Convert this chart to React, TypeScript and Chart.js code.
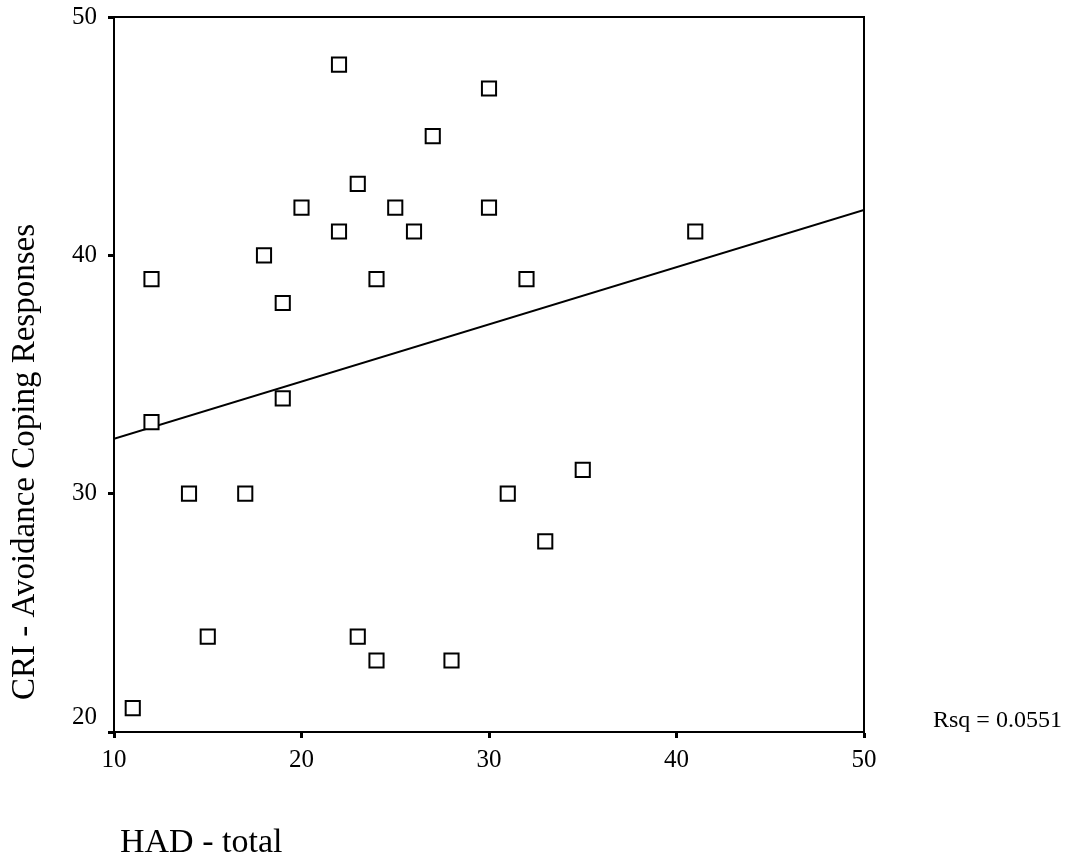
import React, { useEffect, useRef } from "react";
import { Chart, registerables } from "chart.js";

Chart.register(...registerables);

// HAD - total (x) and CRI - Avoidance Coping Responses (y)
const hadTotal = [11, 12, 12, 14, 15, 17, 18, 19, 19, 20, 22, 22, 23, 23, 24, 24, 25, 26, 27, 28, 30, 30, 31, 32, 33, 35, 41];
const criAvoidance = [21, 39, 33, 30, 24, 30, 40, 38, 34, 42, 48, 41, 43, 24, 39, 23, 42, 41, 45, 23, 47, 42, 30, 39, 28, 31, 41];

// fitted regression line endpoints
const fitX = [10, 50];
const fitY = [32.3, 41.9];

const xTicks = [10, 20, 30, 40, 50];
const yTicks = [20, 30, 40, 50];

const xTitle = "HAD - total";
const yTitle = "CRI - Avoidance Coping Responses";
const rsqLabel = "Rsq = 0.0551";

const FONT = "'Liberation Serif', 'Times New Roman', serif";

export default function App() {
  const ref = useRef<HTMLCanvasElement | null>(null);

  useEffect(() => {
    if (!ref.current) return;
    const textPlugin = {
      id: "frameAndTexts",
      afterDraw(chart: any) {
        const { ctx, chartArea } = chart;
        ctx.save();
        ctx.strokeStyle = "#000";
        ctx.lineWidth = 2;
        ctx.beginPath();
        ctx.moveTo(chartArea.left, chartArea.top);
        ctx.lineTo(chartArea.right, chartArea.top);
        ctx.lineTo(chartArea.right, chartArea.bottom);
        ctx.stroke();

        ctx.fillStyle = "#000";
        // y title
        ctx.save();
        ctx.translate(34, 462);
        ctx.rotate(-Math.PI / 2);
        ctx.font = `33px ${FONT}`;
        ctx.textAlign = "center";
        ctx.textBaseline = "alphabetic";
        ctx.fillText(yTitle, 0, 0);
        ctx.restore();
        // x title
        ctx.font = `34px ${FONT}`;
        ctx.textAlign = "left";
        ctx.textBaseline = "alphabetic";
        ctx.fillText(xTitle, 120, 852);
        // Rsq
        ctx.font = `24px ${FONT}`;
        ctx.fillText(rsqLabel, 933, 727);
        ctx.restore();
      },
    };

    const chart = new Chart(ref.current, {
      type: "scatter",
      data: {
        datasets: [
          {
            label: "points",
            data: hadTotal.map((x, i) => ({ x, y: criAvoidance[i] })),
            pointStyle: "rect",
            pointRadius: 10,
            pointBorderWidth: 2,
            pointBorderColor: "#000",
            pointBackgroundColor: "#fff",
            showLine: false,
          },
          {
            label: "fit",
            data: fitX.map((x, i) => ({ x, y: fitY[i] })),
            showLine: true,
            borderColor: "#000",
            borderWidth: 2,
            pointRadius: 0,
            fill: false,
          },
        ],
      },
      options: {
        responsive: false,
        devicePixelRatio: 1,
        animation: false,
        layout: { padding: { top: 17, right: 225, left: 0, bottom: 0 } },
        plugins: { legend: { display: false }, tooltip: { enabled: false } },
        scales: {
          x: {
            type: "linear",
            min: 10,
            max: 50,
            afterFit: (s: any) => {
              s.height = 127;
              s.paddingLeft = 0;
              s.paddingRight = 0;
            },
            afterBuildTicks: (s: any) => {
              s.ticks = xTicks.map((v) => ({ value: v }));
            },
            ticks: {
              color: "#000",
              font: { family: FONT, size: 25 },
              padding: 7,
              maxRotation: 0,
            },
            grid: {
              drawOnChartArea: false,
              drawTicks: true,
              tickLength: 6,
              tickWidth: 3,
              tickColor: "#000",
            },
            border: { display: true, color: "#000", width: 2 },
          },
          y: {
            type: "linear",
            min: 20,
            max: 50,
            afterFit: (s: any) => {
              s.width = 114;
              s.paddingTop = 0;
              s.paddingBottom = 0;
            },
            afterBuildTicks: (s: any) => {
              s.ticks = yTicks.map((v) => ({ value: v }));
            },
            ticks: {
              color: "#000",
              font: { family: FONT, size: 25 },
              padding: 11,
              callback: (v: any) => (Number(v) === 20 ? [String(v), ""] : String(v)),
            },
            grid: {
              drawOnChartArea: false,
              drawTicks: true,
              tickLength: 6,
              tickWidth: 3,
              tickColor: "#000",
            },
            border: { display: true, color: "#000", width: 2 },
          },
        },
      },
      plugins: [textPlugin],
    });
    return () => chart.destroy();
  }, []);

  return (
    <div style={{ position: "absolute", left: 0, top: 0, width: 1089, height: 859, background: "#fff" }}>
      <canvas ref={ref} width={1089} height={859} />
    </div>
  );
}
